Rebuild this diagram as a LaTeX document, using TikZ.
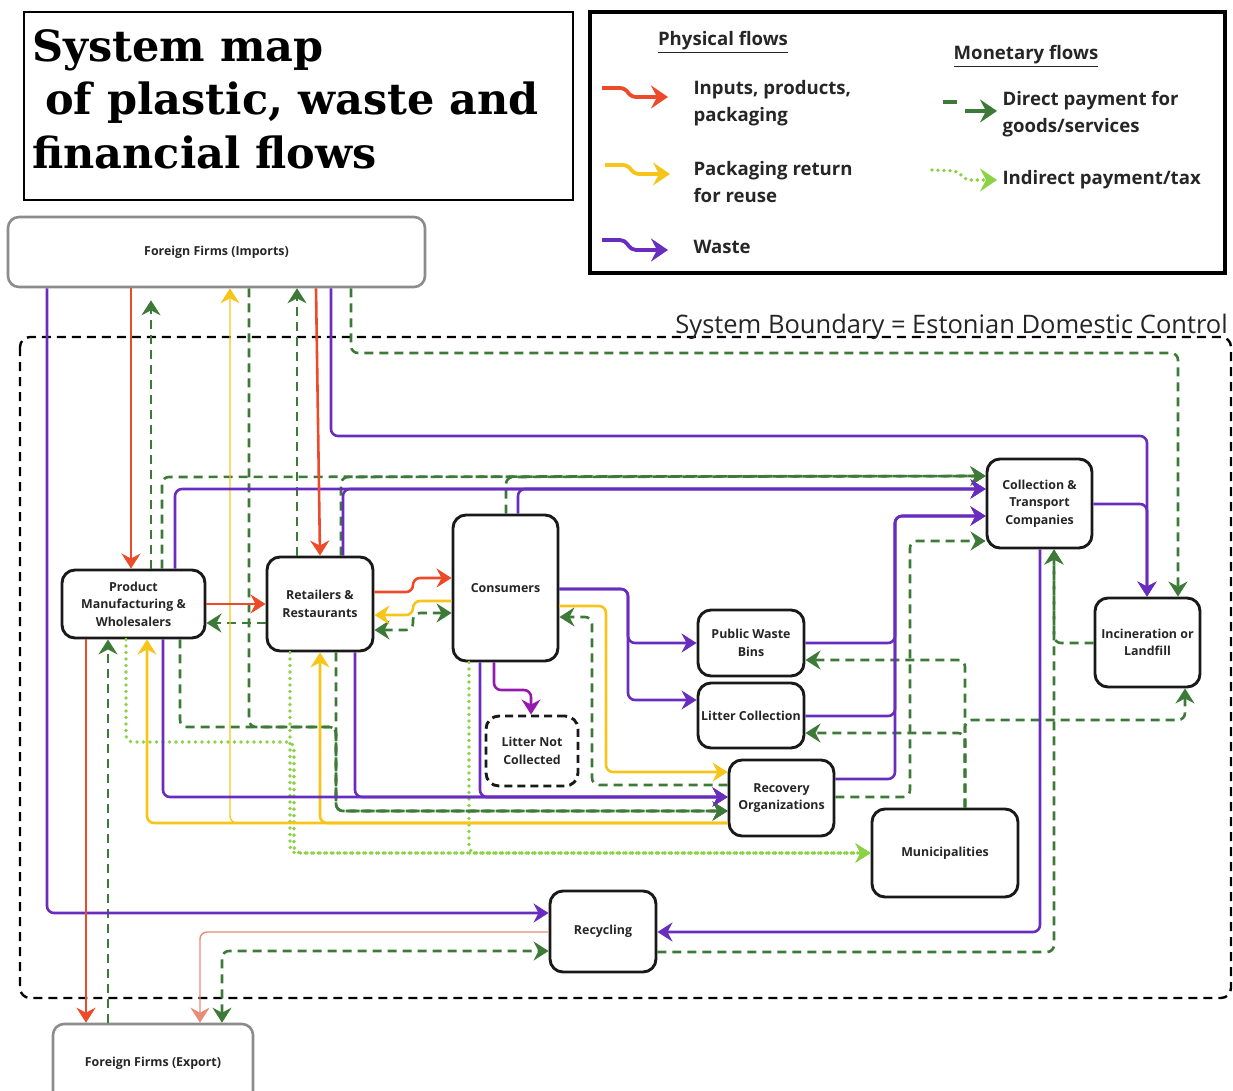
\documentclass[tikz,border=0pt]{standalone}
\usepackage{fontspec}
\setmainfont{Open Sans}
\newfontfamily\titlefont{DejaVu Serif}
\usetikzlibrary{arrows.meta}
\definecolor{flowred}{RGB}{236,74,40}
\definecolor{flowyellow}{RGB}{247,196,26}
\definecolor{flowpurple}{RGB}{104,44,190}
\definecolor{litterpurple}{RGB}{150,25,175}
\definecolor{paygreen}{RGB}{62,122,55}
\definecolor{taxgreen}{RGB}{140,210,70}
\definecolor{salmon}{RGB}{232,140,118}
\begin{document}
\begin{tikzpicture}[x=1pt,y=-1pt,
    >={Stealth[length=15pt,width=19pt,inset=5pt]},
    box/.style={draw=black!90, line width=2.9pt, rounded corners=13pt, fill=white, align=center,
        font=\bfseries\fontsize{12.4}{17.5}\selectfont, text=black!85, inner sep=2pt},
    foreign/.style={box, draw=black!45, line width=2.6pt, rounded corners=11pt},
    lost/.style={box, dash pattern=on 8pt off 5pt},
    flow/.style={line width=2.6pt, rounded corners=7pt, ->},
    input/.style={flow, flowred},
    reuse/.style={flow, flowyellow},
    waste/.style={flow, flowpurple},
    direct/.style={flow, paygreen, dash pattern=on 9pt off 6pt},
    indirect/.style={flow, taxgreen, line width=3.8pt, line cap=round, dash pattern=on 0pt off 6.5pt},
    legarrow/.style={line width=3.8pt, rounded corners=5pt, -{Stealth[length=17pt,width=23pt,inset=6pt]}},
    legtext/.style={anchor=west, align=left, font=\bfseries\fontsize{18.6}{26.5}\selectfont, text=black!85}
]
\useasboundingbox (0,0) rectangle (1233,1091);

\draw[line width=2.4pt] (24,12) rectangle (573,200);
\node[anchor=north west, align=left, inner sep=0pt, font=\titlefont\bfseries\fontsize{43}{53.5}\selectfont] (title) at (32,29)
    {System map\\\hspace*{13pt}of plastic, waste and\\financial flows};

\draw[line width=3.2pt] (590,12) rectangle (1225,273);
\node[legtext, anchor=center] (phys) at (723,42) {\underline{Physical flows}};
\node[legtext, anchor=center] (mone) at (1026,56) {\underline{Monetary flows}};
\draw[legarrow, flowred] (602,88) -- (625,88) -- (631,97) -- (668,97);
\draw[legarrow, flowyellow] (605,165) -- (628,165) -- (634,174) -- (670,174);
\draw[legarrow, flowpurple] (602,240) -- (625,240) -- (631,250) -- (668,250);
\draw[paygreen, line width=3.8pt] (943,102) -- (957,102);
\draw[legarrow, paygreen] (965,111) -- (997,111);
\draw[legarrow, taxgreen, line cap=round, dash pattern=on 0pt off 6pt] (932,170) -- (957,171) -- (966,180) -- (997,180);
\node[legtext] (lin) at (690,103) {Inputs, products,\\packaging};
\node[legtext] (lre) at (690,182) {Packaging return\\for reuse};
\node[legtext] (lwa) at (690,247) {Waste};
\node[legtext] (ldi) at (999,114) {Direct payment for\\goods/services};
\node[legtext] (lta) at (999,180) {Indirect payment/tax};

\draw[line width=2.4pt, dash pattern=on 9pt off 6pt, rounded corners=10pt] (20,337) rectangle (1231,998);
\node[anchor=base east, inner sep=0pt, font=\fontsize{25.5}{28}\selectfont, text=black!85] (bnd) at (1228,333)
    {System Boundary = Estonian Domestic Control};

\node[foreign, minimum width=417pt, minimum height=70pt] (ffi) at (216.5,252) {Foreign Firms (Imports)};
\node[box, minimum width=143pt, minimum height=68pt] (pm) at (133.5,604) {Product\\Manufacturing \&\\Wholesalers};
\node[box, minimum width=106pt, minimum height=94pt] (ret) at (320,604) {Retailers \&\\Restaurants};
\node[box, minimum width=105pt, minimum height=146pt] (cons) at (505.5,588) {Consumers};
\node[lost, minimum width=92pt, minimum height=70pt] (lnc) at (532,751) {Litter Not\\Collected};
\node[box, minimum width=106pt, minimum height=66pt] (pwb) at (751,643) {Public Waste\\Bins};
\node[box, minimum width=106pt, minimum height=65pt] (lc) at (751,715.5) {Litter Collection};
\node[box, minimum width=105pt, minimum height=76pt] (rec) at (781.5,798) {Recovery\\Organizations};
\node[box, minimum width=105pt, minimum height=89pt] (ctc) at (1039.5,503.5) {Collection \&\\Transport\\Companies};
\node[box, minimum width=105pt, minimum height=89pt] (inc) at (1147.5,642.5) {Incineration or\\Landfill};
\node[box, minimum width=146pt, minimum height=88pt] (mun) at (945,853) {Municipalities};
\node[box, minimum width=106pt, minimum height=81pt] (recy) at (603,931.5) {Recycling};
\node[foreign, minimum width=200pt, minimum height=78pt] (ffe) at (153,1063) {Foreign Firms (Export)};

\draw[indirect] (pm.south -| 126,0) -- (126,742) -- (294,742) -- (294,853) -- (mun.west |- 0,853);
\draw[indirect] (ret.south -| 290,0) -- (290,853) -- (mun.west |- 0,853);
\draw[indirect] (cons.south -| 469,0) -- (469,853) -- (mun.west |- 0,853);

\draw[direct, shorten >=12pt] (pm.north -| 151,0) -- (ffi.south -| 151,0);
\draw[direct] (pm.north -| 162,0) -- (162,477) -- (ctc.west |- 0,476);
\draw[direct] (ret.north -| 341,0) -- (341,477) -- (ctc.west |- 0,476);
\draw[direct] (cons.north -| 506,0) -- (506,477) -- (ctc.west |- 0,476);
\draw[direct] (ret.north -| 297,0) -- (ffi.south -| 297,0);
\draw[direct] (ffi.south -| 351,0) -- (351,353) -- (1178,353) -- (inc.north -| 1178,0);
\draw[direct] (ffi.south -| 249,0) -- (249,727) -- (336,727) -- (336,811) -- (rec.west |- 0,811);
\draw[direct] (pm.south -| 180,0) -- (180,727) -- (336,727) -- (336,811) -- (rec.west |- 0,811);
\draw[direct] (ret.south -| 336,0) -- (336,811) -- (rec.west |- 0,811);
\draw[direct] (ret.west |- 0,623) -- (pm.east |- 0,623);
\draw[direct, <->] (ret.east |- 0,630) -- (413,630) -- (413,613) -- (cons.west |- 0,613);
\draw[direct] (rec.west |- 0,785) -- (592,785) -- (592,617) -- (cons.east |- 0,617);
\draw[direct] (rec.east |- 0,797) -- (910,797) -- (910,541) -- (ctc.west |- 0,541);
\draw[direct] (recy.east |- 0,952) -- (1054,952) -- (ctc.south -| 1054,0);
\draw[direct] (inc.west |- 0,643) -- (1054,643) -- (ctc.south -| 1054,0);
\draw[direct] (mun.north -| 965,0) -- (965,660) -- (pwb.east |- 0,660);
\draw[direct] (mun.north -| 965,0) -- (965,733) -- (lc.east |- 0,733);
\draw[direct] (mun.north -| 965,0) -- (965,720) -- (1185,720) -- (inc.south -| 1185,0);
\draw[direct] (ffe.north -| 108,0) -- (pm.south -| 108,0);
\draw[direct, <->] (ffe.north -| 222,0) -- (222,951) -- (recy.west |- 0,951);

\draw[reuse, line width=1.3pt] (rec.west |- 0,823) -- (230,823) -- (ffi.south -| 230,0);
\draw[reuse] (rec.west |- 0,823) -- (147,823) -- (pm.south -| 147,0);
\draw[reuse] (rec.west |- 0,823) -- (320,823) -- (ret.south -| 320,0);
\draw[reuse] (cons.west |- 0,601) -- (413,601) -- (413,615) -- (ret.east |- 0,615);
\draw[reuse] (cons.east |- 0,606) -- (606,606) -- (606,772) -- (rec.west |- 0,772);

\draw[waste] (ffi.south -| 47,0) -- (47,913) -- (recy.west |- 0,913);
\draw[waste] (ffi.south -| 331,0) -- (331,436) -- (1147,436) -- (inc.north -| 1147,0);
\draw[waste] (ctc.east |- 0,504) -- (1147,504) -- (inc.north -| 1147,0);
\draw[waste] (pm.north -| 175,0) -- (175,489) -- (ctc.west |- 0,489);
\draw[waste] (ret.north -| 343,0) -- (343,489) -- (ctc.west |- 0,489);
\draw[waste] (cons.north -| 518,0) -- (518,489) -- (ctc.west |- 0,489);
\draw[waste] (pm.south -| 163,0) -- (163,797) -- (rec.west |- 0,797);
\draw[waste] (ret.south -| 355,0) -- (355,797) -- (rec.west |- 0,797);
\draw[waste] (cons.south -| 480,0) -- (480,797) -- (rec.west |- 0,797);
\draw[waste] (cons.east |- 0,589) -- (628,589) -- (628,643) -- (pwb.west |- 0,643);
\draw[waste] (cons.east |- 0,589) -- (628,589) -- (628,700) -- (lc.west |- 0,700);
\draw[waste] (pwb.east |- 0,643) -- (895,643) -- (895,516) -- (ctc.west |- 0,516);
\draw[waste] (lc.east |- 0,716) -- (895,716) -- (895,516) -- (ctc.west |- 0,516);
\draw[waste] (rec.east |- 0,779) -- (895,779) -- (895,516) -- (ctc.west |- 0,516);
\draw[waste] (ctc.south -| 1040,0) -- (1040,932) -- (recy.east |- 0,932);
\draw[flow, litterpurple] (cons.south -| 494,0) -- (494,690) -- (531,690) -- (lnc.north -| 531,0);

\draw[input] (ffi.south -| 131,0) -- (pm.north -| 131,0);
\draw[input] (ffi.south -| 316,0) -- (ret.north -| 320,0);
\draw[input] (pm.east |- 0,604) -- (ret.west |- 0,604);
\draw[input] (ret.east |- 0,592) -- (413,592) -- (413,578) -- (cons.west |- 0,578);
\draw[input] (pm.south -| 86,0) -- (ffe.north -| 86,0);
\draw[flow, salmon, line width=1.4pt] (recy.west |- 0,932) -- (200,932) -- (ffe.north -| 200,0);
\end{tikzpicture}
\end{document}
